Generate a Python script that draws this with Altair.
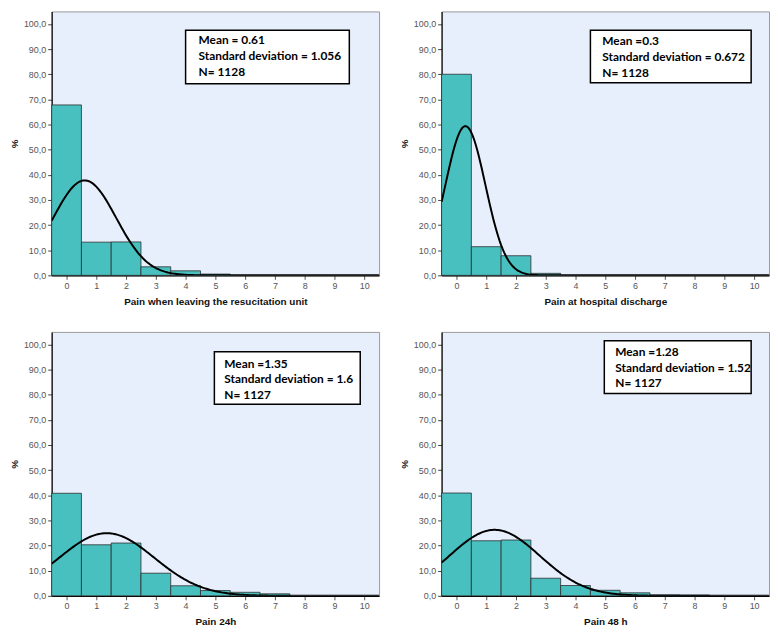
import altair as alt
import pandas as pd

# ---- data ----
scores = list(range(11))
x_titles = [
    "Pain when leaving the resucitation unit",
    "Pain at hospital discharge",
    "Pain 24h",
    "Pain 48 h",
]
pct_leaving = [67.8, 13.2, 13.3, 3.4, 1.8, 0.5]
pct_discharge = [80.0, 11.4, 7.8, 0.8]
pct_24h = [40.8, 20.3, 21.0, 9.0, 4.0, 2.1, 1.4, 0.8]
pct_48h = [40.9, 21.9, 22.2, 7.0, 4.1, 2.2, 1.2, 0.4, 0.3]
means = [0.61, 0.3, 1.35, 1.28]
sds = [1.056, 0.672, 1.6, 1.52]
ns = [1128, 1128, 1127, 1127]
stat_lines = [
    ["Mean = 0.61", "Standard deviation = 1.056", "N= 1128"],
    ["Mean =0.3", "Standard deviation = 0.672", "N= 1128"],
    ["Mean =1.35", "Standard deviation = 1.6", "N= 1127"],
    ["Mean =1.28", "Standard deviation = 1.52", "N= 1127"],
]
y_ticks = [0, 10, 20, 30, 40, 50, 60, 70, 80, 90, 100]

# ---- layout / style ----
W, H = 330, 266
TEAL = "#48C0C0"
BG = "#E6EFFB"
FONT = "Liberation Sans"
# stat box placement in plot pixels: (x1, x2, y1, y2, text_x, text_y)
boxes = [
    (135, 300, 19, 73, 148, 24),
    (150, 312, 19, 72, 162, 25),
    (164, 311, 20, 73, 174, 27),
    (164, 312, 9, 62, 175, 15),
]


def panel(i, pct):
    df = pd.DataFrame({"score": scores[: len(pct)], "pct": pct})
    xs = alt.Scale(domain=[-0.5, 10.5], nice=False, zero=False)
    ys = alt.Scale(domain=[0, 105], nice=False)
    xaxis = alt.Axis(
        values=scores, format="d", grid=False, title=x_titles[i],
        labelOverlap=False, labelFlush=False,
        labelColor="#555", labelFontSize=9, labelFont=FONT,
        tickColor="#555", tickSize=4, domainColor="#000", domainWidth=1.2,
        titleFont=FONT, titleFontSize=10, titleFontWeight="bold",
        titleColor="#111", titlePadding=6,
    )
    yaxis = alt.Axis(
        values=y_ticks, grid=False, title="%",
        labelOverlap=False, labelFlush=False,
        labelExpr="replace(format(datum.value, '.1f'), '.', ',')",
        labelColor="#555", labelFontSize=9, labelFont=FONT,
        tickColor="#444", tickSize=4, domainColor="#000", domainWidth=1.2,
        titleFont=FONT, titleFontSize=10, titleFontWeight="bold",
        titleColor="#222", titlePadding=4,
    )
    bars = (
        alt.Chart(df)
        .transform_calculate(lo="datum.score - 0.5", hi="datum.score + 0.5")
        .mark_rect(fill=TEAL, stroke="#2e2e2e", strokeWidth=0.8)
        .encode(
            x=alt.X("lo:Q", scale=xs, axis=xaxis),
            x2="hi:Q",
            y=alt.Y("pct:Q", scale=ys, axis=yaxis),
            y2=alt.datum(0),
        )
    )
    m, s = means[i], sds[i]
    curve = (
        alt.Chart(alt.sequence(-0.5, 10.5001, 0.05, as_="x"))
        .transform_calculate(
            y=f"100*exp(-0.5*pow((datum.x-({m}))/{s},2))/({s}*sqrt(2*PI))"
        )
        .mark_line(color="black", strokeWidth=2, clip=True)
        .encode(
            x=alt.X("x:Q", scale=xs, axis=xaxis),
            y=alt.Y("y:Q", scale=ys, axis=yaxis),
        )
    )
    bx1, bx2, by1, by2, tx, ty = boxes[i]
    one = alt.Data(values=[{"k": 1}])
    box = alt.Chart(one).mark_rect(fill="white", stroke="black", strokeWidth=1.5).encode(
        x=alt.value(bx1), x2=alt.value(bx2), y=alt.value(by1), y2=alt.value(by2)
    )
    txt = alt.Chart(one).mark_text(
        align="left", baseline="top", font="Lato", fontSize=12,
        fontWeight="bold", color="black", lineHeight=16,
    ).encode(x=alt.value(tx), y=alt.value(ty), text=alt.value(stat_lines[i]))
    return alt.layer(bars, curve, box, txt).properties(width=W, height=H)


row1 = alt.hconcat(panel(0, pct_leaving), panel(1, pct_discharge), spacing=18)
row2 = alt.hconcat(panel(2, pct_24h), panel(3, pct_48h), spacing=18)
chart = (
    alt.vconcat(row1, row2, spacing=24)
    .properties(padding=0, background="white")
    .configure_view(fill=BG, stroke="#999", strokeWidth=1)
)
chart.save("out.html", embed_options={"renderer": "svg", "actions": False})
